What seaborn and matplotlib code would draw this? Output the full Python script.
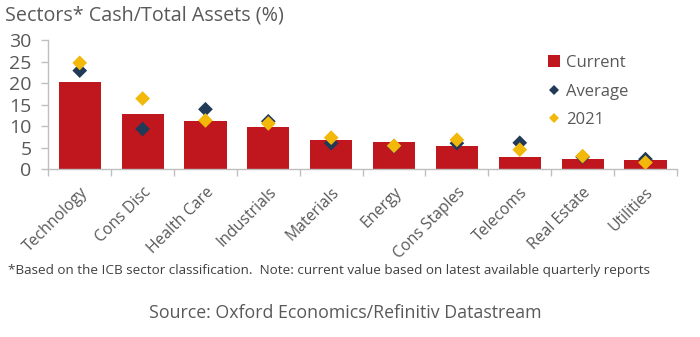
import matplotlib
matplotlib.use("Agg")
import matplotlib.pyplot as plt
import seaborn as sns
import pandas as pd
from matplotlib.lines import Line2D
from matplotlib.ticker import FixedLocator

categories = ["Technology", "Cons Disc", "Health Care", "Industrials", "Materials",
              "Energy", "Cons Staples", "Telecoms", "Real Estate", "Utilities"]
current = [20.2, 12.9, 11.2, 9.8, 6.7, 6.2, 5.4, 2.8, 2.3, 2.1]
average = [22.9, 9.3, 13.9, 11.1, 6.0, 5.3, 6.0, 6.1, 2.8, 2.3]
y2021 = [24.7, 16.4, 11.3, 10.6, 7.3, 5.4, 6.8, 4.5, 3.0, 1.5]
yticks = [0, 5, 10, 15, 20, 25, 30]

title = "Sectors* Cash/Total Assets (%)"
footnote = "*Based on the ICB sector classification.  Note: current value based on latest available quarterly reports"
source = "Source: Oxford Economics/Refinitiv Datastream"

RED = "#C0171F"
NAVY = "#203A58"
GOLD = "#F2B80A"
GREY = "#595959"
AXC = "#BFBFBF"

sns.set_theme(style="white")
plt.rcParams["font.family"] = ["Open Sans", "DejaVu Sans"]

fig = plt.figure(figsize=(7.0, 3.37), dpi=100)
ax = fig.add_axes([0.069, 0.4985, 0.898, 0.3825])

df_bar = pd.DataFrame({"sector": categories, "value": current})
sns.barplot(data=df_bar, x="sector", y="value", order=categories, color=RED,
            saturation=1, width=0.67, ax=ax, linewidth=0)

df_pts = pd.concat([
    pd.DataFrame({"sector": categories, "value": average, "series": "Average"}),
    pd.DataFrame({"sector": categories, "value": y2021, "series": "2021"}),
])
sns.stripplot(data=df_pts, x="sector", y="value", hue="series", order=categories,
              hue_order=["Average", "2021"], palette={"Average": NAVY, "2021": GOLD},
              marker="D", size=7.5, jitter=False, dodge=False, linewidth=0,
              ax=ax, legend=False, zorder=3)

ax.set_xlim(-0.5, len(categories) - 0.5)
ax.set_ylim(0, 30)
ax.set_yticks(yticks)
ax.set_xlabel("")
ax.set_ylabel("")
for s in ["top", "right"]:
    ax.spines[s].set_visible(False)
for s in ["left", "bottom"]:
    ax.spines[s].set_color(AXC)
    ax.spines[s].set_linewidth(1.0)

ax.tick_params(axis="y", which="major", length=5, width=1, color=AXC,
               labelsize=14, labelcolor=GREY, pad=7, left=True)
ax.tick_params(axis="x", which="major", length=0, labelsize=11.3,
               labelcolor=GREY, pad=11)
ax.xaxis.set_minor_locator(FixedLocator([i - 0.5 for i in range(len(categories) + 1)]))
ax.tick_params(axis="x", which="minor", length=5, width=1, color=AXC, bottom=True)
plt.setp(ax.get_xticklabels(), rotation=45, ha="right", rotation_mode="anchor")

handles = [
    Line2D([0], [0], marker="s", color="none", markerfacecolor=RED, markeredgewidth=0, markersize=8),
    Line2D([0], [0], marker="D", color="none", markerfacecolor=NAVY, markeredgewidth=0, markersize=5.5),
    Line2D([0], [0], marker="D", color="none", markerfacecolor=GOLD, markeredgewidth=0, markersize=5.5),
]
leg = ax.legend(handles, ["Current", "Average", "2021"], loc="upper left",
                bbox_to_anchor=(0.783, 0.935), frameon=False, fontsize=12,
                labelspacing=0.75, handlelength=0.8, handletextpad=0.35,
                borderaxespad=0)
for t in leg.get_texts():
    t.set_color(GREY)

fig.text(0.007, 0.955, title, fontsize=14.2, color=GREY, ha="left", va="center")
fig.text(0.011, 0.198, footnote, fontsize=9.7, color="#404040", ha="left", va="center")
fig.text(0.493, 0.07, source, fontsize=12.8, color=GREY, ha="center", va="center")

fig.savefig("out.png", dpi=100)
